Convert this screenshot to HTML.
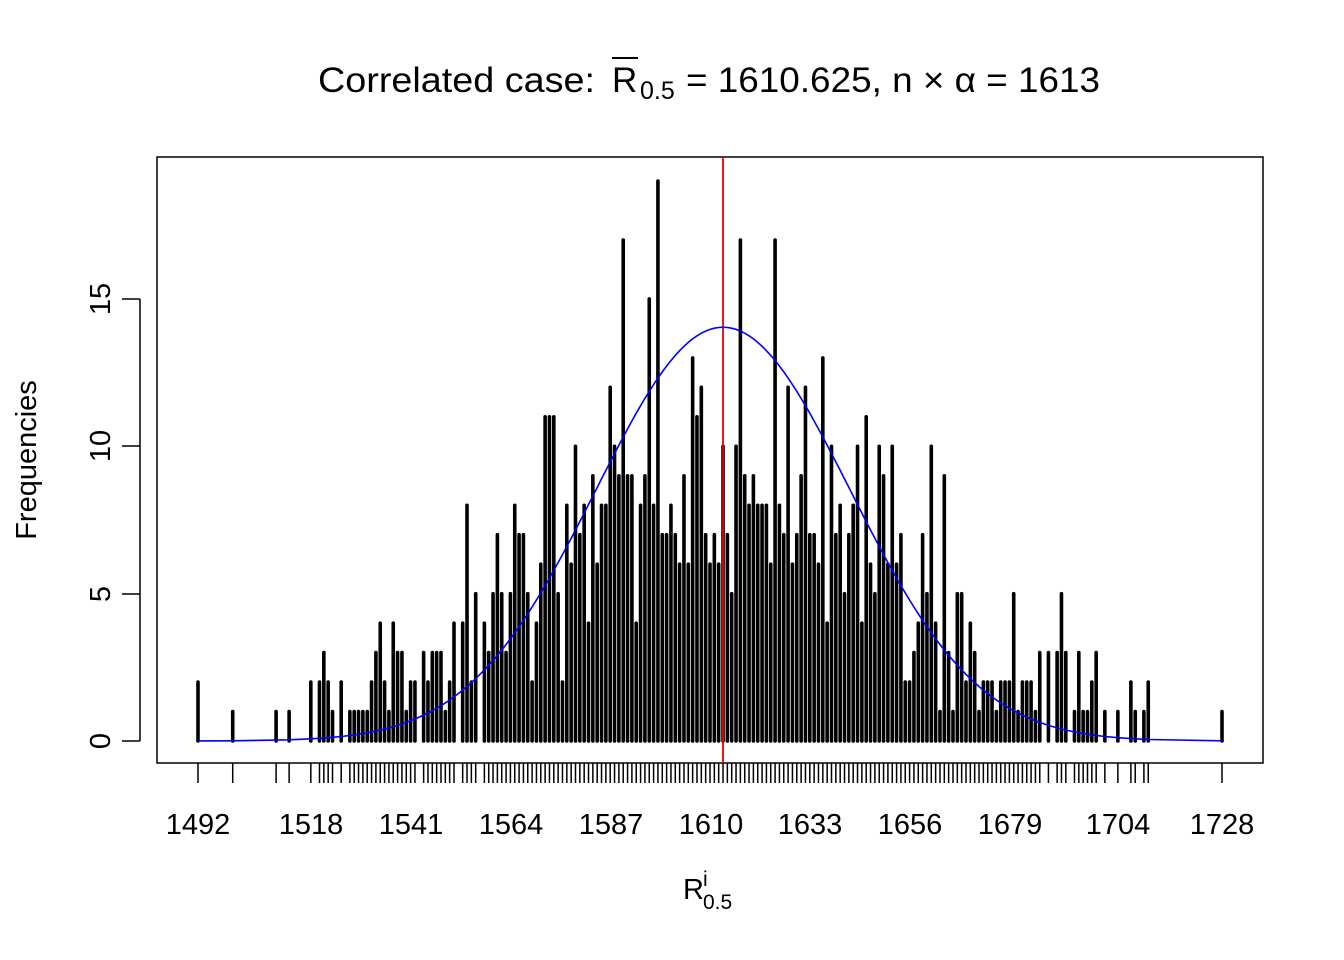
<!DOCTYPE html>
<html><head><meta charset="utf-8"><style>
body{margin:0;background:#fff}
svg{display:block}
text{font-family:"Liberation Sans",Arial,sans-serif;fill:#000}
</style></head><body>
<svg id="s" width="1344" height="960" xmlns="http://www.w3.org/2000/svg">
<rect x="157" y="157" width="1106" height="606" fill="none" stroke="#000" stroke-width="1.5"/>
<g id="bars"></g>
<g id="ticks"></g>
<line x1="723" y1="157" x2="723" y2="763" stroke="#e00" stroke-width="1.8"/>
<path id="curve" fill="none" stroke="#00f" stroke-width="1.6"/>
<line x1="140" y1="741" x2="140" y2="299" stroke="#000" stroke-width="1.5"/>
<line x1="140" y1="741" x2="122" y2="741" stroke="#000" stroke-width="1.5"/>
<line x1="140" y1="594" x2="122" y2="594" stroke="#000" stroke-width="1.5"/>
<line x1="140" y1="446" x2="122" y2="446" stroke="#000" stroke-width="1.5"/>
<line x1="140" y1="299" x2="122" y2="299" stroke="#000" stroke-width="1.5"/>
<g font-size="29" text-anchor="middle">
<text transform="translate(110,741) rotate(-90)">0</text>
<text transform="translate(110,594) rotate(-90)">5</text>
<text transform="translate(110,446) rotate(-90)">10</text>
<text transform="translate(110,299) rotate(-90)">15</text>
<text transform="translate(36,460) rotate(-90)">Frequencies</text>
<text x="198" y="834">1492</text>
<text x="311" y="834">1518</text>
<text x="411" y="834">1541</text>
<text x="511" y="834">1564</text>
<text x="611" y="834">1587</text>
<text x="711" y="834">1610</text>
<text x="810" y="834">1633</text>
<text x="910" y="834">1656</text>
<text x="1010" y="834">1679</text>
<text x="1118" y="834">1704</text>
<text x="1222" y="834">1728</text>
</g>
<text x="683" y="899" font-size="29">R</text>
<text x="703" y="886" font-size="21">i</text>
<text x="703" y="909" font-size="21">0.5</text>
<g font-size="35">
<text x="318" y="92" textLength="277" lengthAdjust="spacingAndGlyphs">Correlated case:</text>
<text x="612" y="92">R</text>
<text x="640" y="99" font-size="25">0.5</text>
<text x="686" y="92" textLength="414" lengthAdjust="spacingAndGlyphs">= 1610.625, n × α = 1613</text>
</g>
<line x1="612" y1="58" x2="638" y2="58" stroke="#000" stroke-width="2"/>
</svg>
<script>
var d={1492:2,1500:1,1510:1,1513:1,1518:2,1520:2,1521:3,1522:2,1523:1,1525:2,1527:1,1528:1,1529:1,1530:1,1531:1,1532:2,1533:3,1534:4,1535:2,1536:1,1537:4,1538:3,1539:3,1540:1,1541:2,1542:2,1544:3,1545:2,1546:3,1547:3,1548:3,1549:1,1550:2,1551:4,1553:4,1554:8,1555:2,1556:5,1558:4,1559:3,1560:5,1561:7,1562:5,1563:3,1564:5,1565:8,1566:7,1567:7,1568:5,1569:2,1570:4,1571:6,1572:11,1573:11,1574:11,1575:5,1576:2,1577:8,1578:6,1579:10,1580:7,1581:8,1582:4,1583:9,1584:6,1585:8,1586:8,1587:12,1588:10,1589:9,1590:17,1591:9,1592:9,1593:4,1594:8,1595:9,1596:15,1597:8,1598:19,1599:7,1600:7,1601:8,1602:7,1603:6,1604:9,1605:6,1606:13,1607:11,1608:12,1609:7,1610:6,1611:7,1612:6,1613:10,1614:7,1615:5,1616:10,1617:17,1618:9,1619:8,1620:9,1621:8,1622:8,1623:8,1624:6,1625:17,1626:8,1627:7,1628:12,1629:6,1630:7,1631:9,1632:12,1633:7,1634:7,1635:6,1636:13,1637:4,1638:10,1639:7,1640:8,1641:5,1642:7,1643:8,1644:10,1645:4,1646:11,1647:6,1648:5,1649:10,1650:9,1651:6,1652:10,1653:6,1654:7,1655:2,1656:2,1657:3,1658:4,1659:7,1660:5,1661:10,1662:4,1663:1,1664:9,1665:3,1666:1,1667:5,1668:5,1669:2,1670:4,1671:3,1672:1,1673:2,1674:2,1675:2,1676:1,1677:2,1678:2,1679:2,1680:5,1681:1,1682:2,1683:2,1684:2,1685:1,1686:3,1688:3,1690:3,1691:5,1692:3,1694:1,1695:3,1696:1,1697:1,1698:2,1699:3,1701:1,1704:1,1707:2,1708:1,1710:1,1711:2,1728:1};
var ns="http://www.w3.org/2000/svg";
function X(v){return 198+(v-1492)*4.339}
function Y(f){return 741-f*29.47}
var b=document.getElementById('bars'),t=document.getElementById('ticks');
var keys=Object.keys(d).map(Number);
keys.forEach(function(v){
 var l=document.createElementNS(ns,'line');
 l.setAttribute('x1',X(v));l.setAttribute('x2',X(v));
 l.setAttribute('y1',741);l.setAttribute('y2',Y(d[v]));
 l.setAttribute('stroke','#000');l.setAttribute('stroke-width','3.6');l.setAttribute('stroke-linecap','round');
 b.appendChild(l);
 var k=document.createElementNS(ns,'line');
 k.setAttribute('x1',X(v));k.setAttribute('x2',X(v));
 k.setAttribute('y1',763);k.setAttribute('y2',783);
 k.setAttribute('stroke','#000');k.setAttribute('stroke-width','1.5');
 t.appendChild(k);
});
var p='';
keys.forEach(function(v,i){
 var z=(v-1613)/29.3;var f=14.04*Math.exp(-z*z/2);
 p+=(i?'L':'M')+X(v).toFixed(1)+','+Y(f).toFixed(1);
});
document.getElementById('curve').setAttribute('d',p);
</script>
</body></html>
